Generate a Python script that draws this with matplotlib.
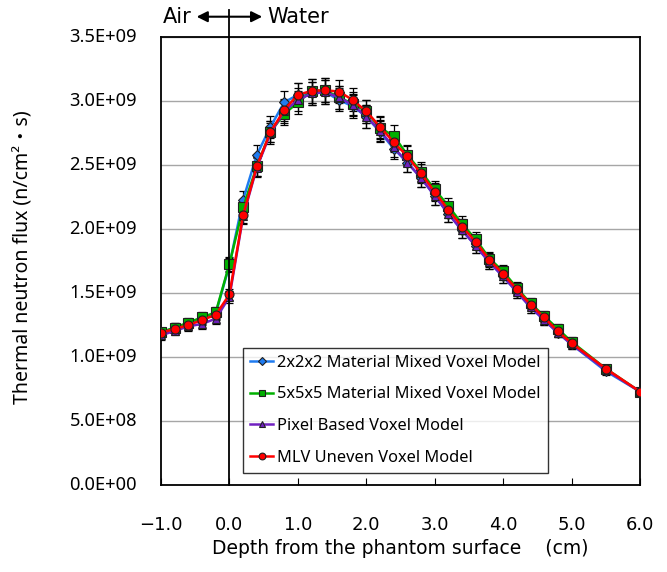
import matplotlib.pyplot as plt
import matplotlib.transforms as mtransforms
import numpy as np

plt.rcParams['font.family'] = ['Liberation Sans', 'Noto Sans CJK JP', 'DejaVu Sans']

# depth (cm)
depth = [-1.0, -0.8, -0.6, -0.4, -0.2, 0.0, 0.2, 0.4, 0.6, 0.8, 1.0, 1.2, 1.4, 1.6,
         1.8, 2.0, 2.2, 2.4, 2.6, 2.8, 3.0, 3.2, 3.4, 3.6, 3.8, 4.0, 4.2, 4.4, 4.6,
         4.8, 5.0, 5.5, 6.0]

# flux in units of 1E+09 n/cm2/s
flux_2x2x2 = [1.19, 1.23, 1.26, 1.30, 1.34, 1.72, 2.23, 2.58, 2.80, 2.99, 3.05, 3.06,
              3.07, 3.01, 2.96, 2.88, 2.76, 2.63, 2.52, 2.40, 2.26, 2.12, 1.99, 1.87,
              1.74, 1.63, 1.51, 1.39, 1.29, 1.19, 1.10, 0.89, 0.73]
flux_5x5x5 = [1.195, 1.23, 1.27, 1.31, 1.35, 1.727, 2.17, 2.49, 2.76, 2.90, 2.99, 3.08,
              3.085, 3.03, 2.98, 2.92, 2.79, 2.73, 2.58, 2.45, 2.31, 2.18, 2.04, 1.92,
              1.77, 1.67, 1.54, 1.42, 1.32, 1.22, 1.12, 0.91, 0.73]
flux_pixel = [1.17, 1.205, 1.24, 1.26, 1.30, 1.47, 2.10, 2.48, 2.75, 2.92, 3.01, 3.06,
              3.07, 3.03, 2.97, 2.88, 2.77, 2.64, 2.52, 2.40, 2.26, 2.12, 1.99, 1.87,
              1.74, 1.63, 1.51, 1.39, 1.29, 1.19, 1.10, 0.90, 0.73]
flux_mlv = [1.19, 1.22, 1.25, 1.29, 1.33, 1.49, 2.11, 2.49, 2.76, 2.93, 3.05, 3.08,
            3.085, 3.075, 3.01, 2.92, 2.80, 2.68, 2.57, 2.435, 2.29, 2.15, 2.02, 1.90,
            1.76, 1.65, 1.53, 1.41, 1.31, 1.20, 1.11, 0.91, 0.73]

yticks = [0, 0.5e9, 1.0e9, 1.5e9, 2.0e9, 2.5e9, 3.0e9, 3.5e9]
ytick_labels = ['0.0E+00', '5.0E+08', '1.0E+09', '1.5E+09', '2.0E+09',
                '2.5E+09', '3.0E+09', '3.5E+09']
xticks = [-1, 0, 1, 2, 3, 4, 5, 6]
xtick_labels = ['\u22121.0', '0.0', '1.0', '2.0', '3.0', '4.0', '5.0', '6.0']

rel_err = 0.03

series = [
    ('2x2x2 Material Mixed Voxel Model', flux_2x2x2, '#1F7BF0', 'D', 5),
    ('5x5x5 Material Mixed Voxel Model', flux_5x5x5, '#00B000', 's', 6.5),
    ('Pixel Based Voxel Model', flux_pixel, '#7020C0', '^', 5.5),
    ('MLV Uneven Voxel Model', flux_mlv, '#FF0000', 'o', 6.5),
]

fig = plt.figure(figsize=(6.67, 5.72), dpi=100)
ax = fig.add_axes([0.2414, 0.152, 0.7181, 0.783])

x = np.array(depth)
for label, vals, color, marker, ms in series:
    y = np.array(vals) * 1e9
    ax.errorbar(x, y, yerr=y * rel_err, fmt='none', ecolor='black',
                elinewidth=0.9, capsize=3, capthick=0.9, zorder=3)
    ax.plot(x, y, color=color, lw=1.8, marker=marker, markersize=ms,
            markerfacecolor=color, markeredgecolor='#202020', markeredgewidth=0.8,
            label=label, zorder=4)

ax.set_xlim(-1.0, 6.0)
ax.set_ylim(0, 3.5e9)
ax.set_yticks(yticks)
ax.set_yticklabels([])
ax.set_xticks(xticks)
ax.set_xticklabels(xtick_labels, fontsize=13, family='DejaVu Sans')
ax.tick_params(axis='x', direction='in', length=5, pad=22)
ax.tick_params(axis='y', length=0)
ax.grid(axis='y', color='#A6A6A6', lw=1.0)
ax.set_axisbelow(True)
for s in ax.spines.values():
    s.set_color('black')
    s.set_linewidth(1.3)

# y tick labels placed by hand, well away from the frame
ytrans = mtransforms.blended_transform_factory(ax.transAxes, ax.transData)
for v, s in zip(yticks, ytick_labels):
    ax.text(-0.05, v, s, transform=ytrans, ha='right', va='center',
            fontsize=13.2, family='Noto Sans', clip_on=False)

ax.set_xlabel('Depth from the phantom surface    (cm)', fontsize=13.5,
              family='DejaVu Sans', labelpad=4)
fig.text(24 / 667, 1 - 257 / 572, 'Thermal neutron flux (n/cm\u00b2\u30fbs)',
         rotation=90, ha='center', va='center', fontsize=14,
         family=['Noto Sans', 'Noto Sans CJK JP'])

# air / water boundary
ax.axvline(0, ymin=0, ymax=1.06, color='black', lw=1.3, clip_on=False, zorder=5)
ax.annotate('', xy=(-0.52, 3.66e9), xytext=(0.52, 3.66e9),
            arrowprops=dict(arrowstyle='<|-|>', color='black', lw=1.5,
                            mutation_scale=16), annotation_clip=False)
ax.text(-0.55, 3.66e9, 'Air', ha='right', va='center', fontsize=15, family='DejaVu Sans')
ax.text(0.55, 3.66e9, 'Water', ha='left', va='center', fontsize=15, family='DejaVu Sans')

leg = ax.legend(loc='lower left', bbox_to_anchor=(0.171, 0.027), borderaxespad=0,
                prop={'family': 'Noto Sans', 'size': 11.8},
                frameon=True, fancybox=False, edgecolor='black', handlelength=1.4,
                handletextpad=0.25, markerscale=0.75, labelspacing=0.95,
                borderpad=0.45)
leg.get_frame().set_linewidth(1.0)

plt.savefig('out.png', dpi=100)
